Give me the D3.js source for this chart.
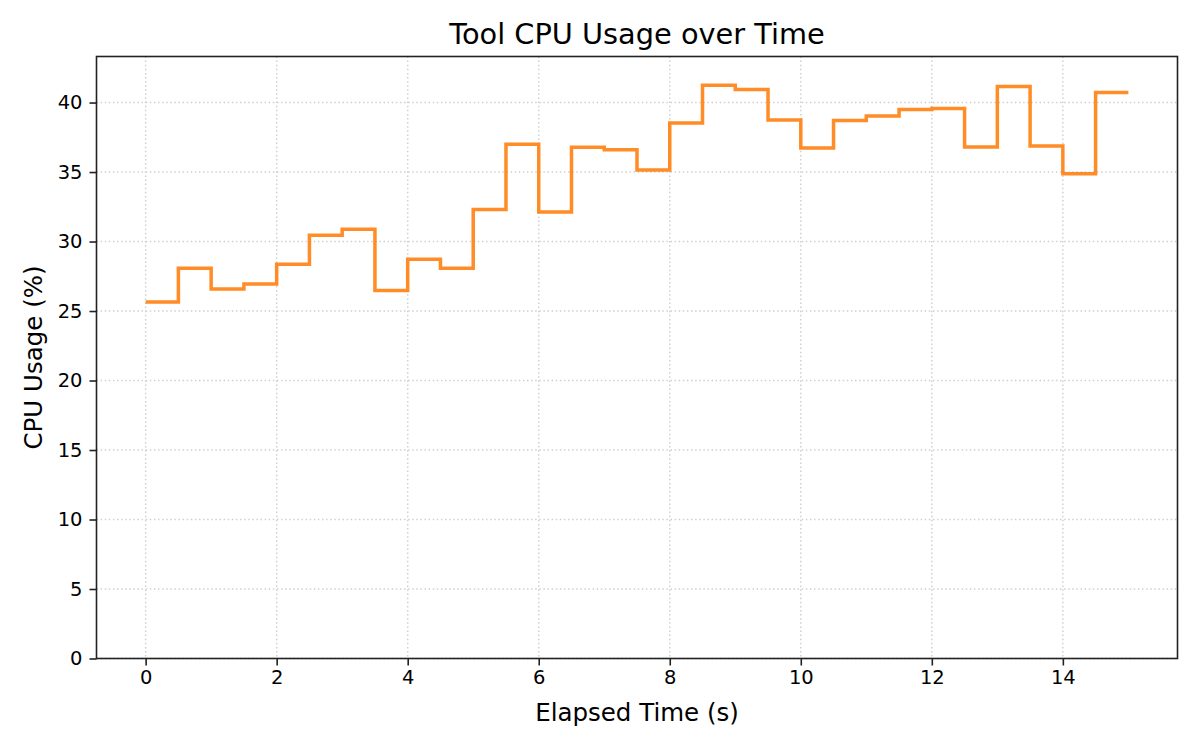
<!DOCTYPE html>
<html>
<head>
<meta charset="utf-8">
<script src="https://cdn.jsdelivr.net/npm/d3@7"></script>
<style>
  body { margin: 0; background: #fff; }
  text { font-family: "DejaVu Sans", sans-serif; fill: #000; }
</style>
</head>
<body>
<div id="chart"></div>
<script>
// sample times (s) and CPU usage (%)
const times = [0, 0.5, 1, 1.5, 2, 2.5, 3, 3.5, 4, 4.5, 5, 5.5, 6, 6.5, 7, 7.5,
               8, 8.5, 9, 9.5, 10, 10.5, 11, 11.5, 12, 12.5, 13, 13.5, 14, 14.5, 15];
const cpu = [25.65, 28.08, 26.59, 26.95, 28.37, 30.46, 30.89, 26.47, 28.73, 28.08,
             32.31, 37.0, 32.12, 36.78, 36.61, 35.14, 38.53, 41.25, 40.94, 38.75,
             36.73, 38.70, 39.04, 39.50, 39.57, 36.80, 41.15, 36.88, 34.88, 40.72, 40.72];
const xTicks = [0, 2, 4, 6, 8, 10, 12, 14];
const yTicks = [0, 5, 10, 15, 20, 25, 30, 35, 40];

const W = 1200, H = 750;
const margin = {top: 56.5, right: 22.5, bottom: 91.5, left: 96.5};
const width = W - margin.left - margin.right,
      height = H - margin.top - margin.bottom;

const svg = d3.select("#chart").append("svg")
    .attr("width", W)
    .attr("height", H);

const g = svg.append("g")
    .attr("transform", "translate(" + margin.left + "," + margin.top + ")");

const x = d3.scaleLinear().domain([-0.75, 15.75]).range([0, width]);
const y = d3.scaleLinear().domain([0, d3.max(cpu) * 1.05]).range([height, 0]);

// dotted grid
g.append("g")
  .selectAll("line")
  .data(xTicks)
  .join("line")
    .attr("x1", d => x(d)).attr("x2", d => x(d))
    .attr("y1", 0).attr("y2", height)
    .attr("stroke", "#d0d0d0")
    .attr("stroke-width", 1.5)
    .attr("stroke-dasharray", "1.5,2.6");
g.append("g")
  .selectAll("line")
  .data(yTicks)
  .join("line")
    .attr("x1", 0).attr("x2", width)
    .attr("y1", d => y(d)).attr("y2", d => y(d))
    .attr("stroke", "#d0d0d0")
    .attr("stroke-width", 1.5)
    .attr("stroke-dasharray", "1.5,2.6");

// step line
const line = d3.line()
    .x((d, i) => x(times[i]))
    .y(d => y(d))
    .curve(d3.curveStepAfter);

g.append("path")
    .datum(cpu)
    .attr("fill", "none")
    .attr("stroke", "#ff7f0e")
    .attr("stroke-opacity", 0.9)
    .attr("stroke-width", 3.5)
    .attr("d", line);

// axes
const xAxis = g.append("g")
    .attr("transform", "translate(0," + height + ")")
    .call(d3.axisBottom(x).tickValues(xTicks).tickSize(7).tickPadding(5).tickFormat(d3.format("d")));
const yAxis = g.append("g")
    .call(d3.axisLeft(y).tickValues(yTicks).tickSize(7).tickPadding(7).tickFormat(d3.format("d")));

[xAxis, yAxis].forEach(a => {
  a.select(".domain").remove();
  a.selectAll(".tick line").attr("stroke", "#222").attr("stroke-width", 1.6);
  a.selectAll(".tick text").style("font-size", "19.5px").attr("fill", "#000");
});

// frame
g.append("rect")
    .attr("width", width)
    .attr("height", height)
    .attr("fill", "none")
    .attr("stroke", "#222")
    .attr("stroke-width", 1.6);

// labels
svg.append("text")
    .attr("x", margin.left + width / 2)
    .attr("y", 44)
    .attr("text-anchor", "middle")
    .style("font-size", "28.8px")
    .text("Tool CPU Usage over Time");

svg.append("text")
    .attr("x", margin.left + width / 2)
    .attr("y", 721)
    .attr("text-anchor", "middle")
    .style("font-size", "24.5px")
    .text("Elapsed Time (s)");

svg.append("text")
    .attr("transform", "translate(42," + (margin.top + height / 2) + ") rotate(-90)")
    .attr("text-anchor", "middle")
    .style("font-size", "24.5px")
    .text("CPU Usage (%)");
</script>
</body>
</html>
